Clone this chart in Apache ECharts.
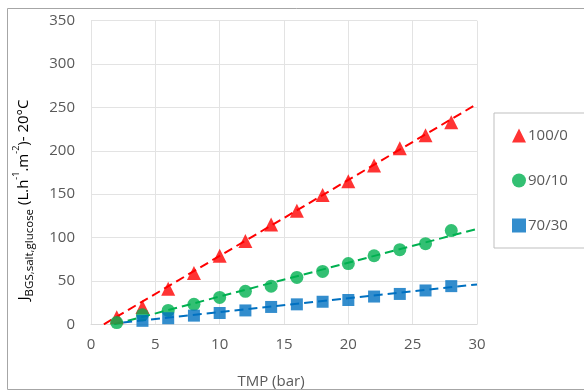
<!DOCTYPE html>
<html>
<head>
<meta charset="utf-8">
<script src="https://cdn.jsdelivr.net/npm/echarts@6/dist/echarts.min.js"></script>
<style>
  html, body { margin: 0; padding: 0; background: #ffffff; }
  #chart { width: 584px; height: 392px; }
</style>
</head>
<body>
<div id="chart"></div>
<script>
// ---- data ----
const tmp = [2, 4, 6, 8, 10, 12, 14, 16, 18, 20, 22, 24, 26, 28];
const flux100_0 = [8, 20, 41, 59, 79, 96, 115, 131, 149, 165, 183, 203, 218, 233];
const flux90_10 = [2, 11, 16, 23, 31, 38, 44, 54, 61, 70, 79, 86, 93, 108];
const tmpBlue = [4, 6, 8, 10, 12, 14, 16, 18, 20, 22, 24, 26, 28];
const flux70_30 = [4, 7, 10, 13, 16, 20, 23, 26, 28, 32, 35, 39, 44];
// linear trend lines (start / end points)
const trend100X = [1, 30];
const trend100Y = [0, 254];
const trend90X = [1.8, 30];
const trend90Y = [0, 110];
const trend70X = [2.5, 30];
const trend70Y = [2, 46];
const seriesNames = ['100/0', '90/10', '70/30'];
const xTicks = { min: 0, max: 30, interval: 5 };
const yTicks = { min: 0, max: 350, interval: 50 };

const zip = (xs, ys) => xs.map((x, i) => [x, ys[i]]);
const FONT = 'Open Sans';
const TXT = '#595959';
const RED = '#FF0000', GREEN = '#00B050', BLUE = '#0070C0';

const chart = echarts.init(document.getElementById('chart'), null, { renderer: 'canvas' });

function trend(name, xs, ys, color) {
  return {
    name: name + ' trend', type: 'line', data: zip(xs, ys),
    showSymbol: false, symbol: 'none', silent: true,
    lineStyle: { color: color, width: 2, type: [9, 5] },
    z: 1
  };
}

chart.setOption({
  animation: false,
  backgroundColor: '#ffffff',
  grid: { left: 91, right: 107, top: 20.7, bottom: 67.7, containLabel: false },
  xAxis: {
    type: 'value', min: xTicks.min, max: xTicks.max, interval: xTicks.interval,
    axisLine: { show: true, lineStyle: { color: '#d9d9d9', width: 1 } },
    axisTick: { show: false },
    axisLabel: { color: TXT, fontFamily: FONT, fontSize: 15, margin: 13 },
    splitLine: { show: true, lineStyle: { color: '#e3e3e3', width: 1 } }
  },
  yAxis: {
    type: 'value', min: yTicks.min, max: yTicks.max, interval: yTicks.interval,
    axisLine: { show: true, lineStyle: { color: '#e3e3e3', width: 1 } },
    axisTick: { show: false },
    axisLabel: { color: TXT, fontFamily: FONT, fontSize: 15, margin: 16 },
    splitLine: { show: true, lineStyle: { color: '#e3e3e3', width: 1 } }
  },
  legend: {
    orient: 'vertical', left: 494, top: 113,
    data: seriesNames,
    padding: [15, 60, 15, 18],
    itemGap: 30, itemWidth: 14, itemHeight: 14,
    borderColor: '#bfbfbf', borderWidth: 1,
    textStyle: { color: TXT, fontFamily: FONT, fontSize: 15, padding: [0, 0, 0, -3] }
  },
  graphic: [
    { type: 'rect', shape: { x: 7.5, y: 8.5, width: 600, height: 381 },
      style: { fill: 'none', stroke: '#a6a6a6', lineWidth: 1 }, silent: true, z: 100 },
    { type: 'text', x: 271, y: 382, silent: true,
      style: { text: 'TMP (bar)', fill: TXT, font: '15px "Open Sans"', align: 'center', verticalAlign: 'middle' } },
    { type: 'text', x: 24, y: 200, rotation: Math.PI / 2, silent: true,
      style: {
        text: '{m|J}{s|BGS,salt,glucose}{m| (L.h}{p|-1}{m|.m}{p|-2}{m|)- 20°C}',
        align: 'center', verticalAlign: 'middle',
        rich: {
          m: { fontFamily: FONT, fontSize: 15, color: TXT, lineHeight: 24, verticalAlign: 'middle' },
          s: { fontFamily: FONT, fontSize: 11.5, color: TXT, lineHeight: 12, verticalAlign: 'bottom' },
          p: { fontFamily: FONT, fontSize: 9, color: TXT, lineHeight: 10, verticalAlign: 'top' }
        }
      } }
  ],
  series: [
    trend('100/0', trend100X, trend100Y, RED),
    trend('90/10', trend90X, trend90Y, GREEN),
    trend('70/30', trend70X, trend70Y, BLUE),
    { name: seriesNames[0], type: 'scatter', data: zip(tmp, flux100_0),
      symbol: 'triangle', symbolSize: 14, itemStyle: { color: RED }, z: 3 },
    { name: seriesNames[1], type: 'scatter', data: zip(tmp, flux90_10),
      symbol: 'circle', symbolSize: 13, itemStyle: { color: GREEN }, z: 3 },
    { name: seriesNames[2], type: 'scatter', data: zip(tmpBlue, flux70_30),
      symbol: 'rect', symbolSize: 12, itemStyle: { color: BLUE }, z: 3 }
  ]
});
</script>
</body>
</html>
